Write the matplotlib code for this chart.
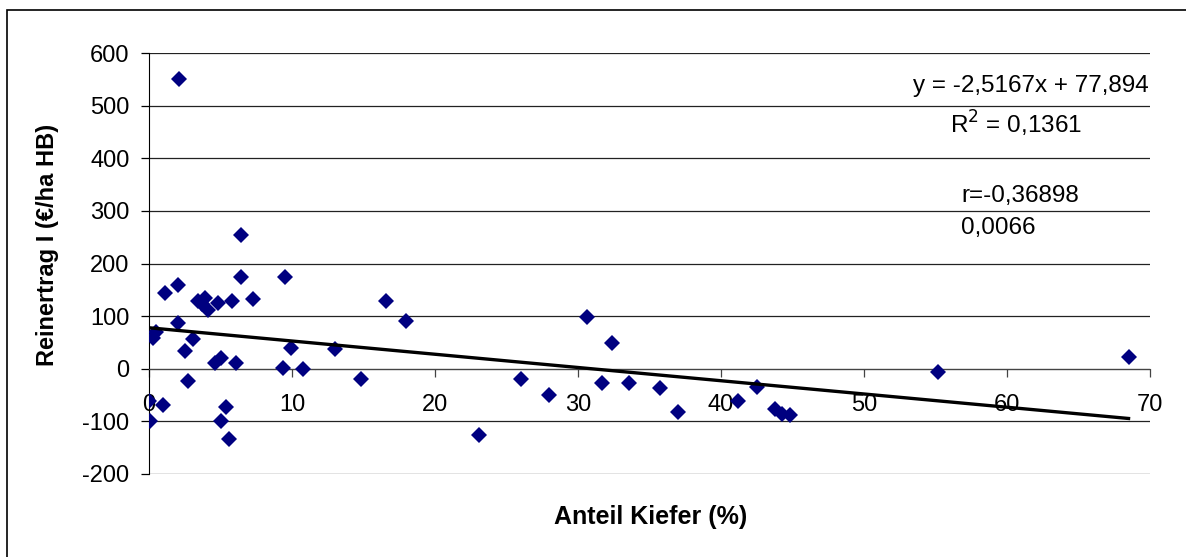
import matplotlib.pyplot as plt
from matplotlib.patches import Rectangle
import numpy as np

plt.rcParams['font.family'] = ['Liberation Sans', 'DejaVu Sans']
plt.rcParams['axes.unicode_minus'] = False

# Anteil Kiefer (%) and Reinertrag I (EUR/ha HB)
kiefer = [0.0, 0.07, 1.0, 1.1, 2.0, 2.0, 2.1, 0.3, 0.5, 3.1, 2.5, 2.7,
          3.4, 3.9, 3.7, 4.1, 4.8, 5.8, 6.4, 6.4, 7.3, 4.6, 5.0, 6.1,
          5.4, 5.0, 5.6, 9.5, 9.4, 9.9, 10.8,
          13.0, 14.8, 16.6, 18.0, 23.1, 26.0, 28.0, 30.6, 32.4, 31.7,
          33.6, 35.7, 37.0,
          41.2, 42.5, 43.8, 44.3, 44.8, 55.2, 68.5]
reinertrag = [-61, -99, -68, 144, 160, 87, 550, 59, 70, 57, 34, -23,
              129, 135, 123, 112, 125, 129, 175, 254, 133, 11, 21, 11,
              -72, -99, -133, 175, 2, 40, 0,
              38, -19, 129, 91, -125, -19, -49, 99, 49, -27,
              -27, -36, -83,
              -61, -34, -76, -86, -87, -7, 23]

# linear trend as given in the chart
slope = -2.5167
intercept = 77.894
eq_text = "y = -2,5167x + 77,894"
r2_text = "R$^2$ = 0,1361"
r_text = "r=-0,36898"
p_text = "0,0066"

fig = plt.figure(figsize=(11.86, 5.57), dpi=100)
ax = fig.add_axes([149/1186, 1 - 474/557, (1150 - 149)/1186, (474 - 53)/557])

# outer chart border
fig.patches.append(Rectangle((7/1186, -0.1), 1.2, 1 - 10/557 + 0.1,
                             transform=fig.transFigure, fill=False,
                             edgecolor='black', linewidth=1.2))

ax.set_xlim(0, 70)
ax.set_ylim(-200, 600)
ax.set_yticks(np.arange(-200, 601, 100))
ax.set_xticks(np.arange(0, 71, 10))
ax.grid(True, axis='y', color='#222222', linewidth=0.9)
ax.set_axisbelow(True)

for s in ['top', 'right']:
    ax.spines[s].set_visible(False)
ax.spines['left'].set_color('black')
ax.spines['bottom'].set_position(('data', 0))
ax.spines['bottom'].set_color('#444444')
ax.tick_params(axis='both', labelsize=17, direction='out', length=6, width=0.9)
ax.tick_params(axis='y', pad=8)
ax.tick_params(axis='x', pad=12, color='#444444')

ax.plot(kiefer, reinertrag, linestyle='none', marker='D', markersize=8,
        color='#000080', markeredgewidth=0, zorder=3)

xs = np.array([min(kiefer), max(kiefer)])
ax.plot(xs, slope * xs + intercept, color='black', linewidth=2.4, zorder=4)

ax.text(69.9, 537, eq_text, ha='right', va='center', fontsize=17.5)
ax.text(56.0, 465, r2_text, ha='left', va='center', fontsize=17.5)
ax.text(56.8, 328, r_text, ha='left', va='center', fontsize=17.5)
ax.text(56.8, 268, p_text, ha='left', va='center', fontsize=17.5)

fig.text(651/1186, 1 - 517/557, "Anteil Kiefer (%)", ha='center', va='center',
         fontsize=18, fontweight='bold')
fig.text(48/1186, 1 - 245/557, "Reinertrag I (€/ha HB)", ha='center', va='center',
         rotation=90, fontsize=17, fontweight='bold')

fig.savefig('out.png', dpi=100)
